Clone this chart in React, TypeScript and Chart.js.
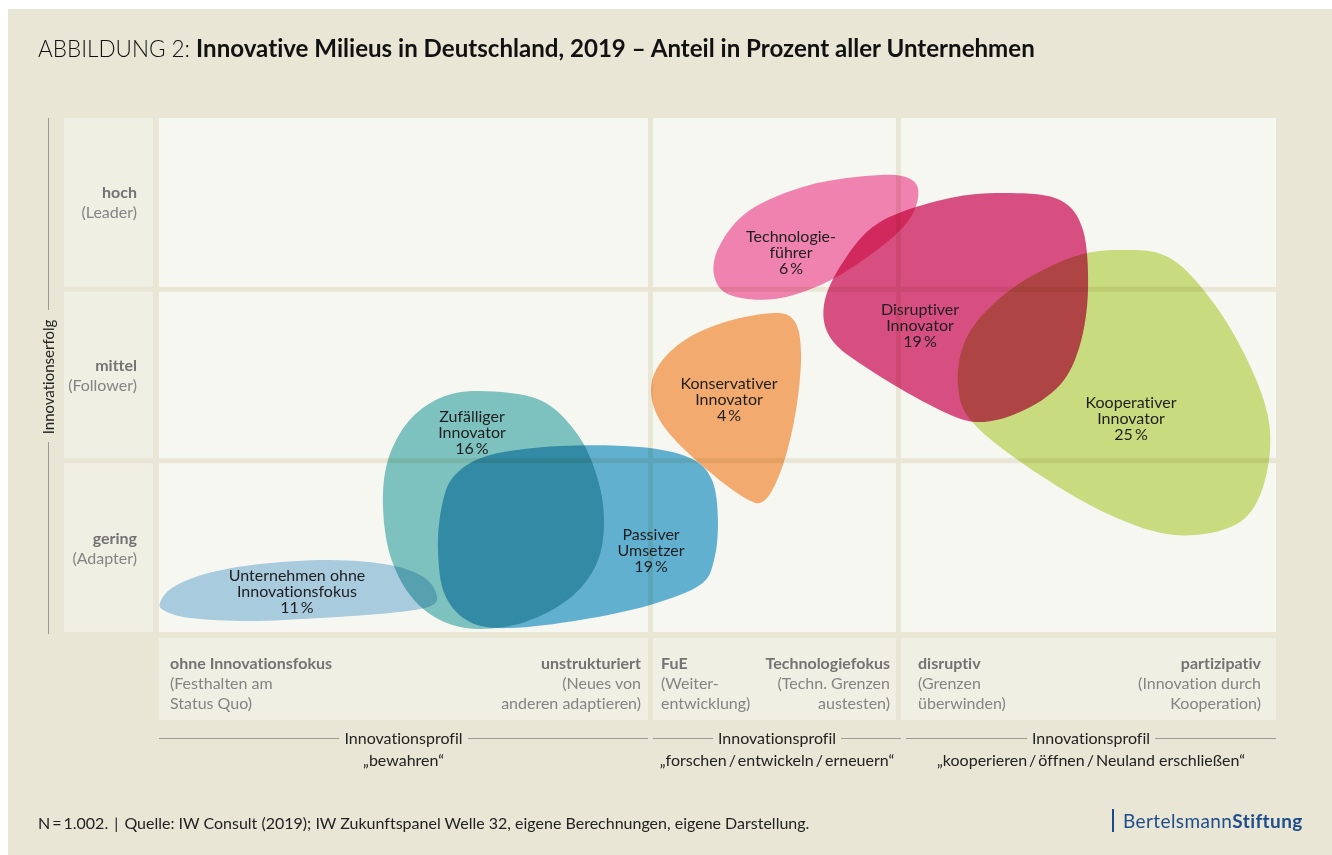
import React, { useEffect, useRef } from "react";
import { Chart, registerables } from "chart.js";

Chart.register(...registerables);

// ---------- data (x: 0..100 along Innovationsprofil, y: 0..3 Innovationserfolg) ----------
const milieuNames = [
  "Unternehmen ohne Innovationsfokus",
  "Zufälliger Innovator",
  "Passiver Umsetzer",
  "Konservativer Innovator",
  "Technologieführer",
  "Disruptiver Innovator",
  "Kooperativer Innovator",
];
const shares = [11, 16, 19, 4, 6, 19, 25];
const labelLines = [
  ["Unternehmen ohne", "Innovationsfokus"],
  ["Zufälliger", "Innovator"],
  ["Passiver", "Umsetzer"],
  ["Konservativer", "Innovator"],
  ["Technologie-", "führer"],
  ["Disruptiver", "Innovator"],
  ["Kooperativer", "Innovator"],
];
const labelX = [12.35, 28.02, 44.05, 51.03, 56.58, 68.13, 87.02];
const labelY = [0.233, 1.161, 0.473, 1.354, 2.212, 1.786, 1.243];
const milieuColors = ["#afd2eb", "#82c9ca", "#65b6dc", "#fab075", "#f886b9", "#de5088", "#cfe286"];

// outline points of each milieu area
const ohneX = [0.09, 1.16, 4.12, 9.04, 15.31, 20.68, 23.81, 24.89, 24.08, 20.68, 14.41, 8.15, 2.78, 0.54];
const ohneY = [0.169, 0.257, 0.339, 0.397, 0.42, 0.391, 0.315, 0.204, 0.146, 0.111, 0.082, 0.064, 0.082, 0.123];
const zufallX = [28.74, 34.11, 37.51, 39.3, 39.84, 39.12, 36.79, 32.77, 28.56, 25.16, 22.47, 20.68, 20.05, 20.5, 22.29, 25.16];
const zufallY = [1.407, 1.354, 1.15, 0.887, 0.625, 0.391, 0.198, 0.058, 0.018, 0.07, 0.216, 0.449, 0.741, 1.004, 1.226, 1.366];
const passivX = [48.43, 43.96, 37.69, 31.42, 27.84, 25.6, 24.98, 25.34, 26.5, 29.63, 35.9, 43.06, 47.54, 49.51, 50.04, 49.69];
const passivY = [0.274, 0.158, 0.07, 0.023, 0.058, 0.216, 0.479, 0.741, 0.916, 1.033, 1.086, 1.08, 1.016, 0.887, 0.654, 0.42];
const konservX = [55.15, 56.94, 57.48, 57.03, 55.86, 54.25, 52.46, 48.88, 45.57, 44.14, 44.49, 46.82, 50.67];
const konservY = [1.862, 1.809, 1.617, 1.296, 0.975, 0.77, 0.782, 0.957, 1.167, 1.354, 1.529, 1.693, 1.809];
const techX = [64.55, 67.41, 67.95, 66.79, 63.65, 59.62, 55.15, 51.12, 49.69, 50.22, 52.91, 58.28];
const techY = [2.667, 2.638, 2.533, 2.376, 2.2, 2.037, 1.944, 1.967, 2.084, 2.259, 2.463, 2.609];
const disruptX = [76.19, 80.66, 82.72, 83.17, 82.45, 80.66, 77.08, 73.05, 69.02, 63.65, 60.25, 59.53, 61.24, 64.55, 70.81];
const disruptY = [2.562, 2.521, 2.346, 1.996, 1.675, 1.442, 1.284, 1.226, 1.325, 1.529, 1.704, 1.909, 2.16, 2.393, 2.533];
const koopX = [86.03, 90.51, 94.54, 97.85, 99.46, 98.75, 96.33, 90.96, 85.14, 78.87, 73.05, 71.53, 72.43, 76.19, 81.56];
const koopY = [2.23, 2.183, 1.909, 1.529, 1.179, 0.829, 0.625, 0.566, 0.683, 0.916, 1.208, 1.442, 1.734, 1.996, 2.183];

const outlineX = [ohneX, zufallX, passivX, konservX, techX, disruptX, koopX];
const outlineY = [ohneY, zufallY, passivY, konservY, techY, disruptY, koopY];

// grid of the matrix
const columnBounds = [0, 44.0, 66.2, 100];
const rowBounds = [0, 1, 2, 3];

const rowTitles = ["hoch", "mittel", "gering"];
const rowSubtitles = ["(Leader)", "(Follower)", "(Adapter)"];

const colLeftHeads = [
  ["ohne Innovationsfokus", "(Festhalten am", "Status Quo)"],
  ["FuE", "(Weiter-", "entwicklung)"],
  ["disruptiv", "(Grenzen", "überwinden)"],
];
const colRightHeads = [
  ["unstrukturiert", "(Neues von", "anderen adaptieren)"],
  ["Technologiefokus", "(Techn. Grenzen", "austesten)"],
  ["partizipativ", "(Innovation durch", "Kooperation)"],
];
const profileNames = [
  "„bewahren“",
  "„forschen\u2009/\u2009entwickeln\u2009/\u2009erneuern“",
  "„kooperieren\u2009/\u2009öffnen\u2009/\u2009Neuland erschließen“",
];

const FONT = "Lato, 'Noto Sans', sans-serif";
const PANEL = "#e9e6d5";
const CELL = "#f7f7f1";
const LABELCELL = "#f0efe4";
const GAP = 5;

// pixel layout of the frame
const W = 1332;
const H = 855;
const AREA = { left: 159, right: 1276, top: 118, bottom: 632 };
const HEAD_TOP = 638;
const HEAD_BOTTOM = 720;
const LABEL_COL = { left: 64, right: 153 };

function colPixels(chart: any) {
  const xs = chart.scales.x;
  const res: [number, number][] = [];
  for (let i = 0; i < columnBounds.length - 1; i++) {
    const a = xs.getPixelForValue(columnBounds[i]) + (i > 0 ? GAP / 2 : 0);
    const b = xs.getPixelForValue(columnBounds[i + 1]) - (i < columnBounds.length - 2 ? GAP / 2 : 0);
    res.push([a, b]);
  }
  return res;
}
function rowPixels(chart: any) {
  const ys = chart.scales.y;
  const res: [number, number][] = [];
  const n = rowBounds.length - 1;
  for (let i = n - 1; i >= 0; i--) {
    const top = ys.getPixelForValue(rowBounds[i + 1]) + (i + 1 < n ? GAP / 2 : 0);
    const bottom = ys.getPixelForValue(rowBounds[i]) - (i > 0 ? GAP / 2 : 0);
    res.push([top, bottom]);
  }
  return res;
}

const matrixPlugin = {
  id: "matrix",
  beforeDraw(chart: any) {
    const ctx = chart.ctx;
    ctx.save();
    ctx.fillStyle = "#ffffff";
    ctx.fillRect(0, 0, W, H);
    ctx.fillStyle = PANEL;
    ctx.fillRect(8, 9, W - 8, H - 9);
    const cols = colPixels(chart);
    const rows = rowPixels(chart);
    rows.forEach(([t, b]) => {
      ctx.fillStyle = LABELCELL;
      ctx.fillRect(LABEL_COL.left, t, LABEL_COL.right - LABEL_COL.left, b - t);
      cols.forEach(([l, r]) => {
        ctx.fillStyle = CELL;
        ctx.fillRect(l, t, r - l, b - t);
      });
    });
    cols.forEach(([l, r]) => {
      ctx.fillStyle = LABELCELL;
      ctx.fillRect(l, HEAD_TOP, r - l, HEAD_BOTTOM - HEAD_TOP);
    });
    ctx.restore();
  },
  beforeDatasetsDraw(chart: any) {
    const ctx = chart.ctx;
    ctx.save();
    ctx.globalCompositeOperation = "multiply";
    chart.data.datasets.forEach((ds: any, i: number) => {
      const meta = chart.getDatasetMeta(i);
      const pts = meta.data.map((p: any) => ({ x: p.x, y: p.y }));
      const n = pts.length;
      ctx.beginPath();
      ctx.moveTo(pts[0].x, pts[0].y);
      for (let k = 0; k < n; k++) {
        const p0 = pts[(k - 1 + n) % n];
        const p1 = pts[k];
        const p2 = pts[(k + 1) % n];
        const p3 = pts[(k + 2) % n];
        ctx.bezierCurveTo(
          p1.x + (p2.x - p0.x) / 6,
          p1.y + (p2.y - p0.y) / 6,
          p2.x - (p3.x - p1.x) / 6,
          p2.y - (p3.y - p1.y) / 6,
          p2.x,
          p2.y
        );
      }
      ctx.closePath();
      ctx.fillStyle = ds.backgroundColor;
      ctx.fill();
    });
    ctx.restore();
  },
  afterDatasetsDraw(chart: any) {
    const ctx = chart.ctx;
    const xs = chart.scales.x;
    const ys = chart.scales.y;
    ctx.save();
    ctx.fillStyle = "#1e1e1e";
    ctx.font = "16px " + FONT;
    try {
      (ctx as any).textRendering = "optimizeSpeed";
    } catch (e) {}
    ctx.textAlign = "center";
    ctx.textBaseline = "middle";
    labelLines.forEach((lines, i) => {
      const cx = xs.getPixelForValue(labelX[i]);
      const cy = ys.getPixelForValue(labelY[i]);
      const all = [...lines, shares[i] + "\u2009%"];
      all.forEach((t, j) => ctx.fillText(t, cx, cy + (j - 1) * 16));
    });
    ctx.restore();
  },
};

function ChartCanvas() {
  const ref = useRef<HTMLCanvasElement | null>(null);
  useEffect(() => {
    if (!ref.current) return;
    const chart = new Chart(ref.current, {
      type: "scatter",
      data: {
        datasets: milieuNames.map((name, i) => ({
          label: name,
          data: outlineX[i].map((x, k) => ({ x, y: outlineY[i][k] })),
          backgroundColor: milieuColors[i],
          pointRadius: 0,
          showLine: false,
        })),
      },
      options: {
        responsive: false,
        animation: false,
        layout: {
          padding: { left: AREA.left, right: W - AREA.right, top: AREA.top, bottom: H - AREA.bottom },
        },
        scales: {
          x: { type: "linear", min: 0, max: 100, display: false },
          y: { type: "linear", min: 0, max: 3, display: false },
        },
        plugins: { legend: { display: false }, tooltip: { enabled: false }, title: { display: false } },
        events: [],
      },
      plugins: [matrixPlugin],
    } as any);
    return () => chart.destroy();
  }, []);
  return (
    <canvas
      ref={ref}
      width={W}
      height={H}
      style={{ position: "absolute", left: 0, top: 0, width: W, height: H }}
    />
  );
}

const abs = (s: React.CSSProperties): React.CSSProperties => ({ position: "absolute", whiteSpace: "nowrap", ...s });

export default function App() {
  const rowCenters = [202, 375, 548];
  const colPx: [number, number][] = [
    [159, 648],
    [653, 901],
    [906, 1276],
  ];
  const padL = [11, 8, 12];
  const padR = [7, 11, 15];
  return (
    <div
      style={{
        position: "absolute",
        left: 0,
        top: 0,
        width: W,
        height: H,
        overflow: "hidden",
        fontFamily: FONT,
        fontVariantLigatures: "none",
      }}
    >
      <ChartCanvas />
      {/* title */}
      <div style={abs({ left: 38, top: 33, fontSize: 24, lineHeight: "30px", color: "#111" })}>
        <span style={{ fontWeight: 300, fontSize: 22.5 }}>ABBILDUNG 2: </span>
        <span style={{ fontWeight: 700, fontSize: 24.1 }}>Innovative Milieus in Deutschland, 2019 – Anteil in Prozent aller Unternehmen</span>
      </div>
      {/* y axis title */}
      <div style={abs({ left: 48, top: 118, width: 1, height: 192, background: "#9a9a92" })} />
      <div style={abs({ left: 48, top: 442, width: 1, height: 192, background: "#9a9a92" })} />
      <div
        style={abs({
          left: 48 - 100,
          top: 377 - 10,
          width: 200,
          height: 20,
          lineHeight: "20px",
          fontSize: 15,
          color: "#222",
          textAlign: "center",
          transform: "rotate(-90deg)",
        })}
      >
        Innovationserfolg
      </div>
      {/* row labels */}
      {rowTitles.map((t, i) => (
        <div
          key={t}
          style={abs({ left: 20, width: 117, top: rowCenters[i] - 20, fontSize: 16, lineHeight: "20px", textAlign: "right" })}
        >
          <div style={{ fontWeight: 700, color: "#737373" }}>{t}</div>
          <div style={{ color: "#848484" }}>{rowSubtitles[i]}</div>
        </div>
      ))}
      {/* column heads */}
      {colPx.map(([l, r], i) => (
        <React.Fragment key={"c" + i}>
          <div style={abs({ left: l + padL[i], top: 653, fontSize: 16, lineHeight: "20px", textAlign: "left" })}>
            <div style={{ fontWeight: 700, color: "#737373" }}>{colLeftHeads[i][0]}</div>
            <div style={{ color: "#848484" }}>{colLeftHeads[i][1]}</div>
            <div style={{ color: "#848484" }}>{colLeftHeads[i][2]}</div>
          </div>
          <div style={abs({ left: r - 300 - padR[i], width: 300, top: 653, fontSize: 16, lineHeight: "20px", textAlign: "right" })}>
            <div style={{ fontWeight: 700, color: "#737373" }}>{colRightHeads[i][0]}</div>
            <div style={{ color: "#848484" }}>{colRightHeads[i][1]}</div>
            <div style={{ color: "#848484" }}>{colRightHeads[i][2]}</div>
          </div>
          <div
            style={abs({
              left: l,
              width: r - l,
              top: 728,
              height: 20,
              display: "flex",
              alignItems: "center",
              fontSize: 16,
              color: "#222",
            })}
          >
            <div style={{ flex: 1, height: 1, background: "#9a9a92" }} />
            <div style={{ padding: "0 5px", lineHeight: "20px" }}>Innovationsprofil</div>
            <div style={{ flex: 1, height: 1, background: "#9a9a92" }} />
          </div>
          <div style={abs({ left: l, width: r - l, top: 750, fontSize: 16, lineHeight: "20px", textAlign: "center", color: "#222" })}>
            {profileNames[i]}
          </div>
        </React.Fragment>
      ))}
      {/* footnote */}
      <div style={abs({ left: 38, top: 813, fontSize: 16, lineHeight: "20px", color: "#222" })}>
        N{"\u2009=\u2009"}1.002.{" \u2009|\u2009 "}Quelle: IW Consult (2019); IW Zukunftspanel Welle 32, eigene Berechnungen, eigene Darstellung.
      </div>
      {/* logo */}
      <div style={abs({ left: 1112, top: 809, width: 2, height: 23, background: "#1b4a8a" })} />
      <div style={abs({ left: 1123, top: 810, fontSize: 19, lineHeight: "22px", color: "#1f4d8c", letterSpacing: 0.4 })}>
        Bertelsmann<span style={{ fontWeight: 700 }}>Stiftung</span>
      </div>
    </div>
  );
}
